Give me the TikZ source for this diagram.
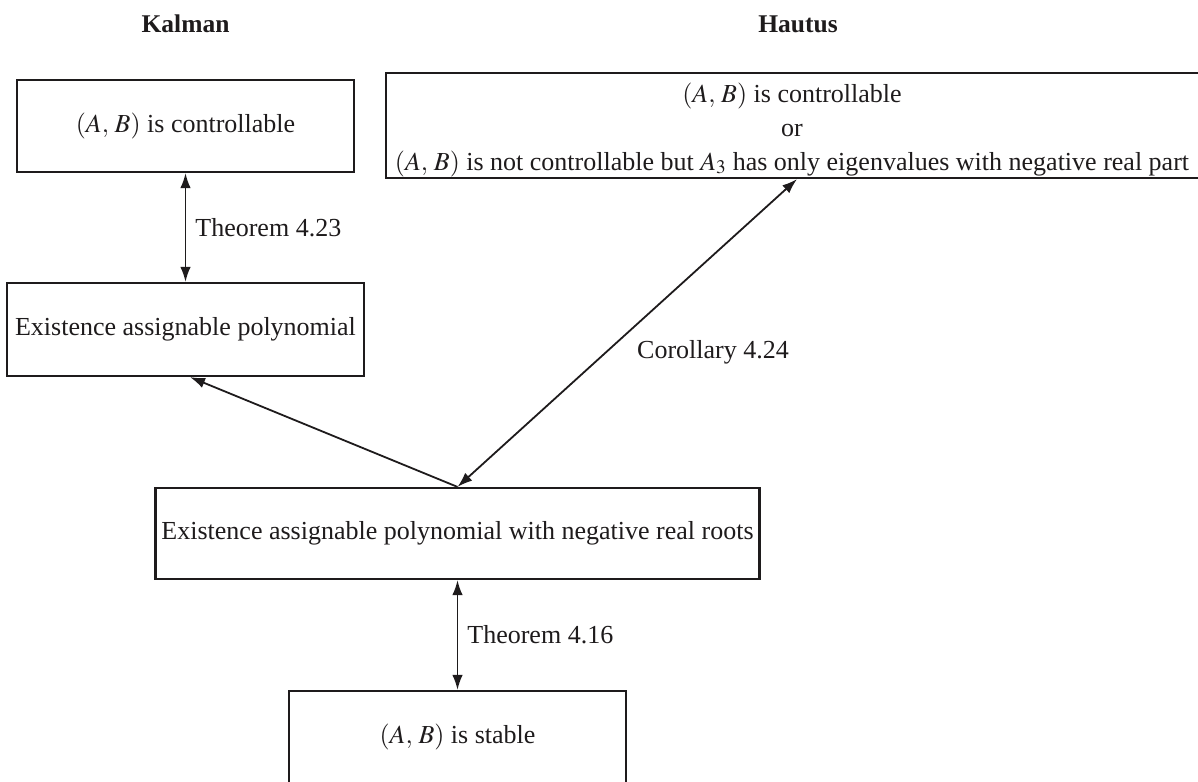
\documentclass[tikz,border=0pt]{standalone}
\usepackage{mathptmx}
\usepackage{fontspec}
\setmainfont{Liberation Serif}
\usetikzlibrary{arrows.meta,calc}
\definecolor{ink}{RGB}{30,27,28}
\begin{document}
\begin{tikzpicture}[x=1pt,y=-1pt,
  font=\fontsize{26}{34}\selectfont,
  box/.style={draw=ink, line width=2.2pt, inner sep=0pt, align=center, text=ink},
  txt/.style={text=ink, inner sep=0pt, align=center},
  dbl/.style={draw=ink, line width=1.8pt, {Latex[length=15pt,width=10.5pt]}-{Latex[length=15pt,width=10.5pt]}},
  sgl/.style={draw=ink, line width=1.8pt, -{Latex[length=15pt,width=10.5pt]}},
  lbl/.style={text=ink, inner sep=0pt, anchor=west},
  head/.style={text=ink, inner sep=0pt, font=\fontsize{25.5}{30}\selectfont\bfseries}]
\useasboundingbox (0,0) rectangle (1198,781);
\clip (0,0) rectangle (1198,781);

\node[head] (kal) at (185.5,24) {Kalman};
\node[head] (hau) at (798,24) {Hautus};

\node[box, minimum width=337pt, minimum height=92pt] (b1) at (185.5,126) {$(A,\,B)$ is controllable};
\node[box, minimum width=357pt, minimum height=93pt] (b2) at (185.5,329.5) {Existence assignable polynomial};
\node[box, minimum width=816pt, minimum height=105pt] (b3) at (794,125.5) {};
\node[txt] (b3t) at (792,129.5)
  {$(A,\,B)$ is controllable\\or\\$(A,\,B)$ is not controllable but $A_3$ has only eigenvalues with negative real part};
\node[box, minimum width=604pt, minimum height=91pt] (b4) at (457.5,533.5) {Existence assignable polynomial with negative real roots};
\node[box, minimum width=337pt, minimum height=92pt] (b5) at (457.5,737) {$(A,\,B)$ is stable};

\draw[dbl] (b1.south) -- (b2.north) node[lbl, midway, xshift=9pt] (t423) {Theorem 4.23};
\draw[dbl] (b4.south) -- (b5.north) node[lbl, midway, xshift=9pt] (t416) {Theorem 4.16};
\draw[sgl] (b4.north) -- ([xshift=4.5pt]b2.south);
\draw[dbl] (b4.north) -- ([xshift=3pt]b3.south);
\node[lbl] (c424) at (637,352) {Corollary 4.24};
\end{tikzpicture}
\end{document}
